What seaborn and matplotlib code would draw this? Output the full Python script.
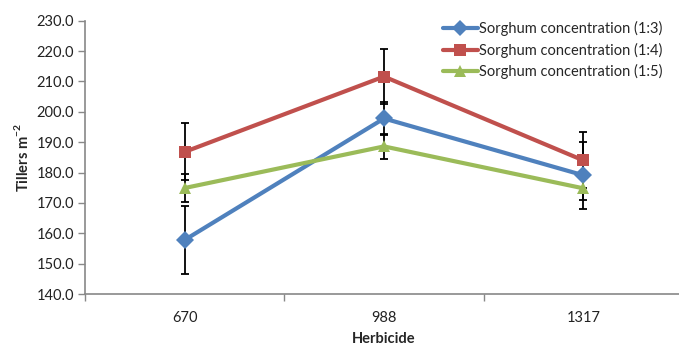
import matplotlib
matplotlib.use("Agg")
import matplotlib.pyplot as plt
import seaborn as sns
import pandas as pd
import numpy as np

categories = ["670", "988", "1317"]
series_names = ["Sorghum concentration (1:3)", "Sorghum concentration (1:4)", "Sorghum concentration (1:5)"]
s13 = [157.8, 197.8, 179.1]
s14 = [186.8, 211.6, 184.0]
s15 = [174.9, 188.6, 174.8]
err13 = [11.3, 5.3, 11.0]
err14 = [9.4, 9.1, 9.2]
err15 = [4.6, 4.1, 4.0]
yticks = [140, 150, 160, 170, 180, 190, 200, 210, 220, 230]

colors = ["#4F81BD", "#C0504D", "#9BBB59"]
markers = ["D", "s", "^"]

sns.set_theme(style="white")
plt.rcParams["font.family"] = ["Lato", "DejaVu Sans"]
plt.rcParams["mathtext.fontset"] = "custom"
plt.rcParams["mathtext.rm"] = "Lato"
plt.rcParams["mathtext.bf"] = "Lato:bold"

rows = []
for name, vals, errs in zip(series_names, [s13, s14, s15], [err13, err14, err15]):
    for i, (c, v, e) in enumerate(zip(categories, vals, errs)):
        rows.append({"pos": i, "cat": c, "series": name, "value": v, "err": e})
df = pd.DataFrame(rows)

fig = plt.figure(figsize=(6.79, 3.46), dpi=100)
ax = fig.add_axes([85/679, 52/346, 598/679, 273.3/346])

# error bars
for name in series_names:
    sub = df[df.series == name]
    ax.errorbar(sub["pos"], sub["value"], yerr=sub["err"], fmt="none",
                ecolor="black", elinewidth=1.3, capsize=3, capthick=1.3, zorder=2)

sns.lineplot(data=df, x="pos", y="value", hue="series", style="series",
             palette=colors, markers=markers, dashes=False, linewidth=3,
             markersize=9, markeredgewidth=0, ax=ax, zorder=3, legend=True)

ax.set_xlim(-0.5, 2.5)
ax.set_ylim(140, 230)
ax.set_yticks(yticks)
ax.set_yticklabels([f"{t:.1f}" for t in yticks], fontsize=10.5, color="#222222")
ax.set_xticks(range(len(categories)))
ax.set_xticklabels(categories, fontsize=10.5, color="#222222")
ax.tick_params(axis="x", length=0, pad=12)
ax.tick_params(axis="y", length=5, color="#888888", width=1, left=True, pad=3)

ax.set_xticks([-0.5, 0.5, 1.5, 2.5], minor=True)
ax.tick_params(axis="x", which="minor", length=5, color="#888888", width=1, bottom=True)

for s in ["top", "right"]:
    ax.spines[s].set_visible(False)
for s in ["left", "bottom"]:
    ax.spines[s].set_color("#888888")
    ax.spines[s].set_linewidth(1.2)

ax.set_xlabel("Herbicide", fontsize=10.5, fontweight="bold", labelpad=5)
ax.set_ylabel(r"Tillers m$^{\mathbf{-2}}$", fontsize=10.5, fontweight="bold", labelpad=4)

leg = ax.legend(loc="upper left", bbox_to_anchor=(352/598, 1.02), frameon=False,
                fontsize=10.5, handlelength=2.4, handletextpad=0.1, labelspacing=0.45,
                borderaxespad=0)
for h in leg.legend_handles:
    h.set_linewidth(3)
    h.set_markersize(8)

fig.savefig("out.png", dpi=100)
